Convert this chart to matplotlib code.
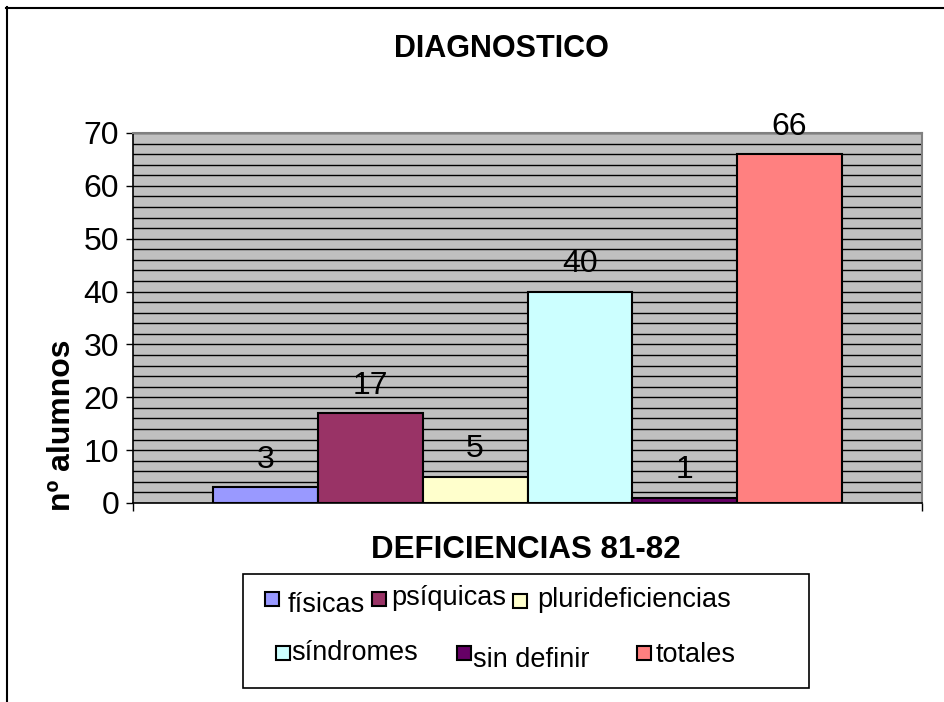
import numpy as np
import matplotlib
matplotlib.use("Agg")
import matplotlib.pyplot as plt
from matplotlib.patches import Rectangle
from matplotlib.lines import Line2D

plt.rcParams['font.family'] = ['Liberation Sans', 'DejaVu Sans']

# Data
categorias = ["físicas", "psíquicas", "plurideficiencias", "síndromes", "sin definir", "totales"]
alumnos = [3, 17, 5, 40, 1, 66]
colores = ["#9999FF", "#993366", "#FFFFCC", "#CCFFFF", "#660066", "#FF8080"]
yticks = [0, 10, 20, 30, 40, 50, 60, 70]

W, H = 944, 702
fig = plt.figure(figsize=(W / 100, H / 100), dpi=100)


def fx(px):
    return px / W


def fy(py):
    return 1 - py / H


# Plot area (pixel box 133..922 x 133..503)
ax = fig.add_axes([fx(133), fy(503), (922 - 133) / W, (503 - 133) / H])
ax.set_facecolor("#C0C0C0")

gw = 629 / 789
bw = gw / len(alumnos)
xs = -gw / 2 + bw * (np.arange(len(alumnos)) + 0.5)
ax.bar(xs, alumnos, width=bw, color=colores, edgecolor="black", linewidth=1.5, zorder=3)

for x, v in zip(xs, alumnos):
    ax.annotate(str(v), (x, v), xytext=(0, 9), textcoords="offset points",
                ha="center", va="bottom", fontsize=23)

ax.set_xlim(-0.5, 0.5)
ax.set_ylim(0, 70)
ax.set_yticks(yticks)
ax.set_yticks(np.arange(0, 71, 2), minor=True)
ax.tick_params(axis="y", which="major", labelsize=23, length=5, width=1, pad=5)
ax.tick_params(axis="y", which="minor", length=0)
ax.yaxis.grid(True, which="both", color="black", linewidth=1.0)
ax.set_axisbelow(True)
ax.set_xticks([-0.5, 0.5])
ax.set_xticklabels(["", ""])
ax.tick_params(axis="x", length=6, width=1)

ax.spines["left"].set_color("black")
ax.spines["bottom"].set_color("black")
ax.spines["left"].set_linewidth(1.2)
ax.spines["bottom"].set_linewidth(1.2)
ax.spines["top"].set_color("#808080")
ax.spines["right"].set_color("#808080")
ax.spines["top"].set_linewidth(1.5)
ax.spines["right"].set_linewidth(1.5)

# Titles
fig.text(fx(501), fy(57), "DIAGNOSTICO", ha="center", va="baseline",
         fontsize=22, fontweight="bold")
fig.text(fx(526), fy(558), "DEFICIENCIAS 81-82", ha="center", va="baseline",
         fontsize=22.5, fontweight="bold")
fig.text(fx(62), fy(425), "nº alumnos", ha="center", va="center", rotation=90,
         fontsize=23, fontweight="bold")

# Legend (manual, like the original layout)
fig.add_artist(Rectangle((fx(243), fy(688)), (809 - 243) / W, (688 - 574) / H,
                         transform=fig.transFigure, facecolor="white",
                         edgecolor="black", linewidth=1.2))
# square left, square top, text left, text baseline (pixels)
leg_pos = [(265, 592, 288, 612), (372, 592, 391, 605), (513, 594, 537, 607),
           (276, 646, 291, 660), (457, 646, 473, 667), (637, 646, 656, 662)]
for (sx, sy, tx, ty), nombre, c in zip(leg_pos, categorias, colores):
    fig.add_artist(Rectangle((fx(sx), fy(sy + 14)), 14 / W, 14 / H,
                             transform=fig.transFigure, facecolor=c,
                             edgecolor="black", linewidth=1.5))
    fig.text(fx(tx), fy(ty), nombre, ha="left", va="baseline", fontsize=19.5)

# Chart border (only top and left visible)
fig.add_artist(Line2D([fx(6), fx(944)], [fy(7.5), fy(7.5)], color="black",
                      linewidth=1.5, transform=fig.transFigure))
fig.add_artist(Line2D([fx(6.5), fx(6.5)], [fy(7), fy(702)], color="black",
                      linewidth=1.5, transform=fig.transFigure))

fig.savefig("out.png", dpi=100)
